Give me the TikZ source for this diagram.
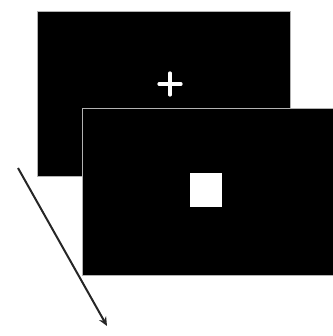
\documentclass[tikz,border=0pt]{standalone}
\usetikzlibrary{arrows.meta}
\begin{document}
\begin{tikzpicture}[x=1pt,y=-1pt,
  screen/.style={draw=gray!60,line width=0.6pt,fill=black,inner sep=0pt,anchor=north west},
  stim/.style={fill=white,inner sep=0pt,minimum width=32pt,minimum height=34pt},
  timearrow/.style={draw=black!85,line width=2pt,-{Stealth[length=9pt,width=8pt]}}]
\useasboundingbox (0,0) rectangle (332,336);
\node[screen,minimum width=253pt,minimum height=165pt] (s1) at (37,11) {};
\draw[white,line width=3.2pt,line cap=round] (159,84) -- (181,84) (170,73) -- (170,95);
\node[screen,minimum width=252pt,minimum height=167pt] (s2) at (82,108) {};
\node[stim] (sq) at (206,190) {};
\coordinate (a0) at (18,168);
\coordinate (a1) at (107,326);
\draw[timearrow] (a0) -- (a1);
\end{tikzpicture}
\end{document}
